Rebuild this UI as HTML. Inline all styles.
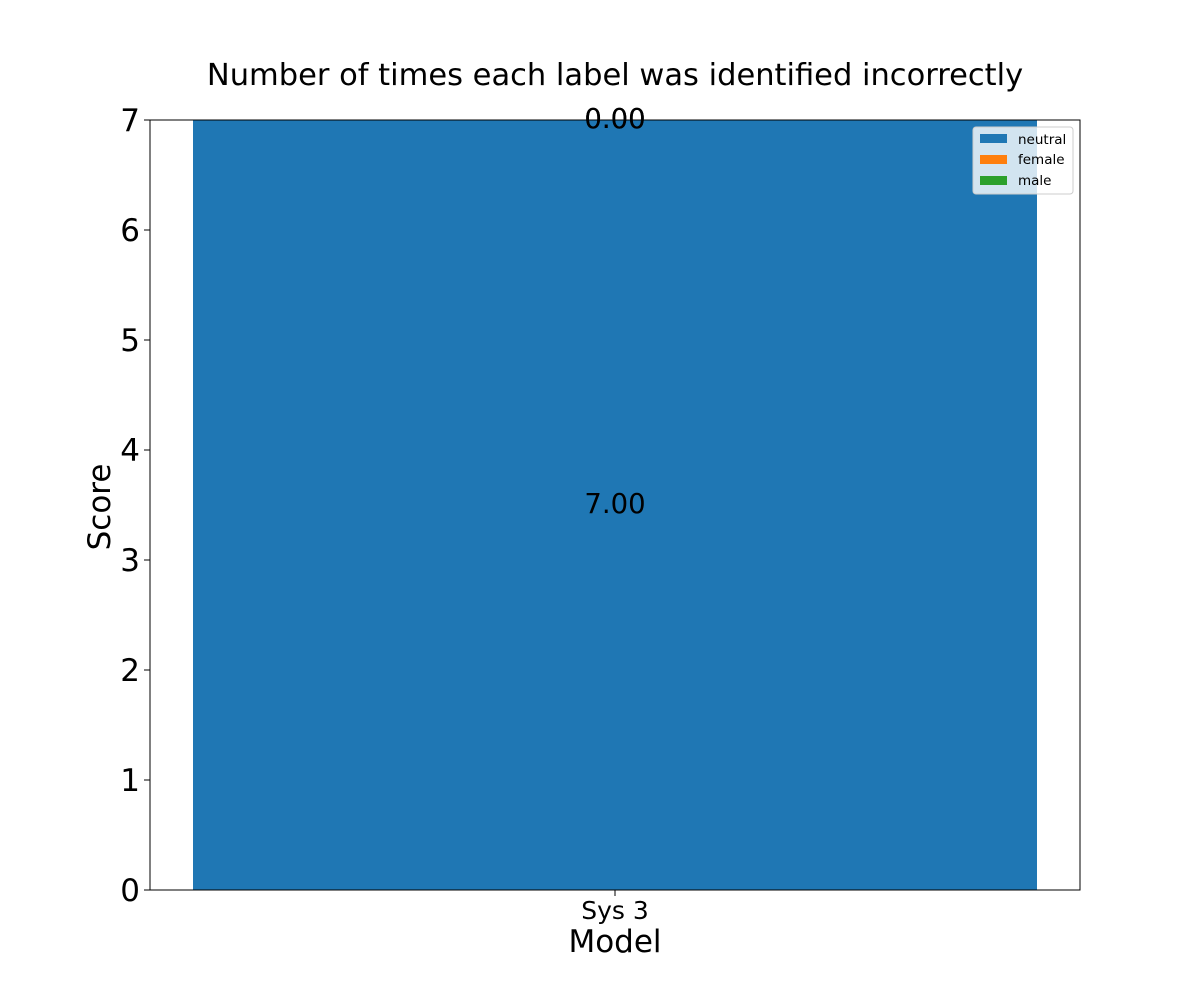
<!DOCTYPE html>
<html><head><meta charset="utf-8"><style>
body{margin:0;background:#fff;}
svg text{font-family:"DejaVu Sans","Liberation Sans",sans-serif;}
</style></head><body>
<svg id="chart" width="1200" height="1000" xmlns="http://www.w3.org/2000/svg">
<text x="615" y="85" font-size="30.5" text-anchor="middle">Number of times each label was identified incorrectly</text>
<g id="bars"></g>
<g id="yticks"></g>
<rect x="150" y="120" width="930" height="770" fill="none" stroke="#000" stroke-width="1"/>
<text transform="translate(110,507) rotate(-90)" font-size="31" text-anchor="middle">Score</text>
<text x="615" y="952" font-size="31" text-anchor="middle">Model</text>
<g>
<rect x="973" y="127" width="100" height="67" rx="3" fill="#fff" fill-opacity="0.8" stroke="#ccc"/>
<rect x="980" y="134" width="27" height="9" fill="#1f77b4"/>
<text x="1018" y="144" font-size="13.5">neutral</text>
<rect x="980" y="155" width="27" height="9" fill="#ff7f0e"/>
<text x="1018" y="164" font-size="13.5">female</text>
<rect x="980" y="176" width="27" height="9" fill="#2ca02c"/>
<text x="1018" y="185" font-size="13.5">male</text>
</g>
</svg>
<script>
const categories=["Sys 3"];
const neutral=[7];
const female=[0];
const male=[0];
const yTicks=[0,1,2,3,4,5,6,7];
const NS="http://www.w3.org/2000/svg";
const x0=150,x1=1080,y0=890,y1=120,yMax=7;
function ys(v){return y0-(v/yMax)*(y0-y1);}
const bw=(x1-x0)/categories.length;
function xc(i){return x0+bw*(i+0.5);}
const barW=844;
const bars=document.getElementById('bars');
const yt=document.getElementById('yticks');
function mk(tag,attrs){const e=document.createElementNS(NS,tag);for(const k in attrs)e.setAttribute(k,attrs[k]);return e;}
yTicks.forEach(t=>{
 const l=mk('line',{x1:x0-6,x2:x0,y1:ys(t),y2:ys(t),stroke:'#000'});
 
 
 yt.appendChild(l);
 const tx=mk('text',{x:x0-10,y:ys(t)+11,'font-size':31,'text-anchor':'end'});
 
 
 tx.textContent=t;yt.appendChild(tx);
});
const series=[[neutral,'#1f77b4','neutral'],[female,'#ff7f0e','female'],[male,'#2ca02c','male']];
categories.forEach((c,i)=>{
 let base=0;
 series.forEach(([arr,col,nm])=>{
  const v=arr[i];
  const r=mk('rect',{x:xc(i)-barW/2,y:ys(base+v),width:barW,height:ys(base)-ys(base+v),fill:col});
  
  
  bars.appendChild(r);
  const lb=mk('text',{x:xc(i),y:(ys(base)+ys(base+v))/2+8,'font-size':27.5,'text-anchor':'middle'});
  
  
  lb.textContent=v.toFixed(2);bars.appendChild(lb);
  base+=v;
 });
 const tk=mk('line',{x1:xc(i),x2:xc(i),y1:y0,y2:y0+6,stroke:'#000'});
 
 
 bars.appendChild(tk);
 const tl=mk('text',{x:xc(i),y:y0+29,'font-size':25,'text-anchor':'middle'});
 
 
 tl.textContent=c;bars.appendChild(tl);
});
</script>
</body></html>
